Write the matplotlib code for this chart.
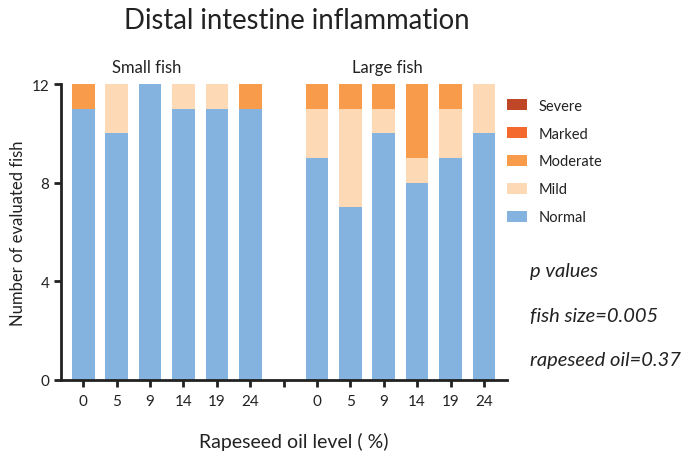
import matplotlib
matplotlib.use("Agg")
import matplotlib.pyplot as plt
from matplotlib.patches import Patch

plt.rcParams['font.family'] = ['Lato', 'DejaVu Sans']

doses = ["0", "5", "9", "14", "19", "24"]
groups = ["Small fish", "Large fish"]
grades = ["Normal", "Mild", "Moderate", "Marked", "Severe"]
colors = ["#84B3DF", "#FDD9B6", "#F89C4B", "#F4692D", "#BF4727"]

# counts per grade for each dose, small fish then large fish
normal = [11, 10, 12, 11, 11, 11, 9, 7, 10, 8, 9, 10]
mild = [0, 2, 0, 1, 1, 0, 2, 4, 1, 1, 2, 2]
moderate = [1, 0, 0, 0, 0, 1, 1, 1, 1, 3, 1, 0]
marked = [0] * 12
severe = [0] * 12
series = [normal, mild, moderate, marked, severe]

fig = plt.figure(figsize=(6.93, 4.56), dpi=100)
ax = fig.add_axes([0.088, 0.1645, 0.644, 0.649])

pos = list(range(6)) + list(range(7, 13))
bottom = [0] * 12
for vals, col in zip(series, colors):
    ax.bar(pos, vals, width=0.68, bottom=bottom, color=col, edgecolor='none')
    bottom = [b + v for b, v in zip(bottom, vals)]

ax.set_ylim(0, 12)
ax.set_xlim(-0.67, 12.7)
ax.set_yticks([0, 4, 8, 12])
ax.set_xticks(list(range(13)))
ax.set_xticklabels(doses + [""] + doses)
for s in ['top', 'right']:
    ax.spines[s].set_visible(False)
for s in ['left', 'bottom']:
    ax.spines[s].set_linewidth(2)
    ax.spines[s].set_color('#222222')
ax.tick_params(axis='both', width=2, length=5, color='#222222', labelsize=11, labelcolor='#222222')
ax.tick_params(axis='x', pad=5)

ax.set_ylabel("Number of evaluated fish", fontsize=12, color='#222222')
ax.set_xlabel("Rapeseed oil level ( %)", fontsize=14, color='#222222', labelpad=17)
ax.xaxis.label.set_x(0.522)

ax.text(1.9, 12.35, groups[0], ha='center', va='bottom', fontsize=12, color='#222222')
ax.text(9.1, 12.35, groups[1], ha='center', va='bottom', fontsize=12, color='#222222')

fig.text(0.428, 0.955, "Distal intestine inflammation", ha='center', va='center',
         fontsize=19.8, color='#222222')

handles = [Patch(facecolor=c, edgecolor='none') for c in colors[::-1]]
fig.legend(handles, grades[::-1], loc='upper left', bbox_to_anchor=(0.712, 0.81),
           frameon=False, fontsize=10.5, handlelength=1.4, handleheight=0.8,
           labelspacing=0.95, handletextpad=0.8, labelcolor='#222222')

for y, t in [(0.405, "p values"), (0.305, "fish size=0.005"), (0.21, "rapeseed oil=0.37")]:
    fig.text(0.765, y, t, ha='left', va='center', fontsize=14.5, style='italic', color='#222222')

fig.savefig("out.png", dpi=100)
